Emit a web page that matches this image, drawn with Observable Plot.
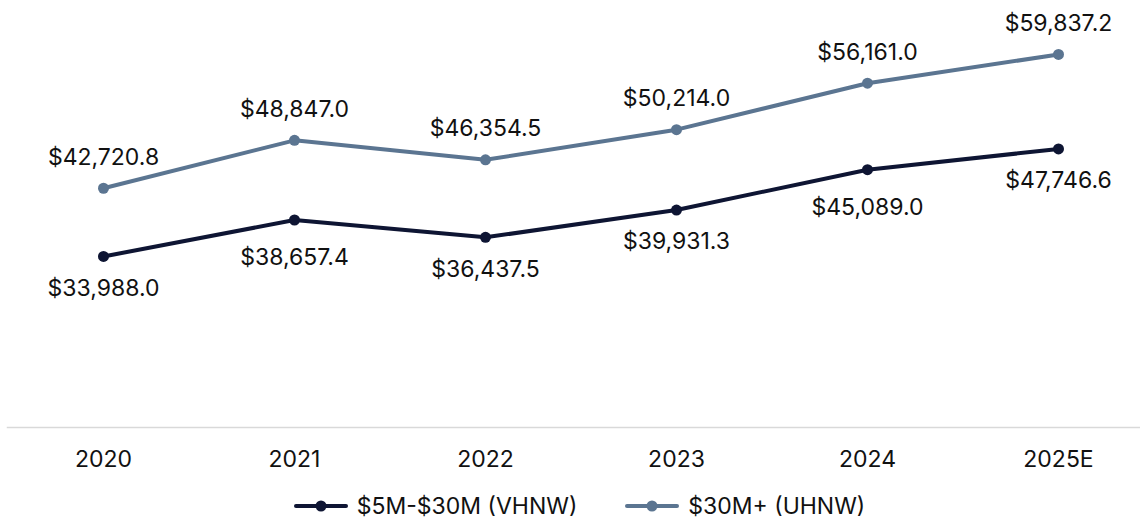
<!DOCTYPE html>
<html>
<head>
<meta charset="utf-8">
<script src="https://cdn.jsdelivr.net/npm/d3@7"></script>
<script src="https://cdn.jsdelivr.net/npm/@observablehq/plot@0.6"></script>
<style>
  html, body { margin: 0; padding: 0; background: #fff; }
  body { width: 1140px; height: 518px; overflow: hidden; font-family: Inter, "Noto Sans", sans-serif; }
  #chart svg { display: block; }
  #legend { display: flex; align-items: center; justify-content: center; height: 24px; line-height: 24px; margin-top: 14px; font-size: 23px; color: #111; padding-left: 19px; }
  .item { display: flex; align-items: center; margin: 0 24px; }
  .item svg { margin-right: 9px; }
</style>
</head>
<body>
<div id="chart"></div>
<div id="legend"></div>
<script>
const years = ["2020", "2021", "2022", "2023", "2024", "2025E"];
const vhnw = [33988.0, 38657.4, 36437.5, 39931.3, 45089.0, 47746.6];
const uhnw = [42720.8, 48847.0, 46354.5, 50214.0, 56161.0, 59837.2];
const seriesNames = ["$5M-$30M (VHNW)", "$30M+ (UHNW)"];
const seriesColors = ["#0e1533", "#5b7591"];

const rows = [];
years.forEach((y, i) => {
  rows.push({year: y, value: vhnw[i], series: seriesNames[0], steepRise: i > 0 && vhnw[i] - vhnw[i - 1] > 4000});
  rows.push({year: y, value: uhnw[i], series: seriesNames[1], steepRise: false});
});
const fmt = v => "$" + d3.format(",.1f")(v);
const low = rows.filter(d => d.series === seriesNames[0]);
const lowNormal = low.filter(d => !d.steepRise);
const lowSteep = low.filter(d => d.steepRise);
const high = rows.filter(d => d.series === seriesNames[1]);

const chart = Plot.plot({
  width: 1140,
  height: 480,
  marginTop: 10,
  marginLeft: 7,
  marginRight: 0,
  marginBottom: 53,
  style: {fontFamily: "Inter, 'Noto Sans', sans-serif", fontSize: "23px", color: "#111", background: "#fff"},
  x: {type: "point", domain: years, range: [103, 1058], padding: 0, label: null},
  y: {domain: [0, 60000], range: [521.6, 52.7], axis: null},
  color: {domain: seriesNames, range: seriesColors},
  marks: [
    Plot.frame({anchor: "bottom", stroke: "#d9d9d9", strokeWidth: 1.5}),
    Plot.axisX({tickSize: 0, tickPadding: 23, label: null, fontSize: 23, fill: "#111"}),
    Plot.line(rows, {x: "year", y: "value", z: "series", stroke: "series", strokeWidth: 4}),
    Plot.dot(rows, {x: "year", y: "value", fill: "series", r: 5.5}),
    Plot.text(high, {x: "year", y: "value", text: d => fmt(d.value), dy: -31, fill: "#111", fontSize: 23}),
    Plot.text(lowNormal, {x: "year", y: "value", text: d => fmt(d.value), dy: 32, fill: "#111", fontSize: 23}),
    Plot.text(lowSteep, {x: "year", y: "value", text: d => fmt(d.value), dy: 38, fill: "#111", fontSize: 23})
  ]
});
document.getElementById("chart").appendChild(chart);

const legend = document.getElementById("legend");
seriesNames.forEach((name, i) => {
  const item = document.createElement("div");
  item.className = "item";
  item.innerHTML = `<svg width="54" height="12"><line x1="2" y1="6" x2="52" y2="6" stroke="${seriesColors[i]}" stroke-width="4" stroke-linecap="round"/><circle cx="27" cy="6" r="5.5" fill="${seriesColors[i]}"/></svg><span></span>`;
  item.querySelector("span").textContent = name;
  legend.appendChild(item);
});
</script>
</body>
</html>
